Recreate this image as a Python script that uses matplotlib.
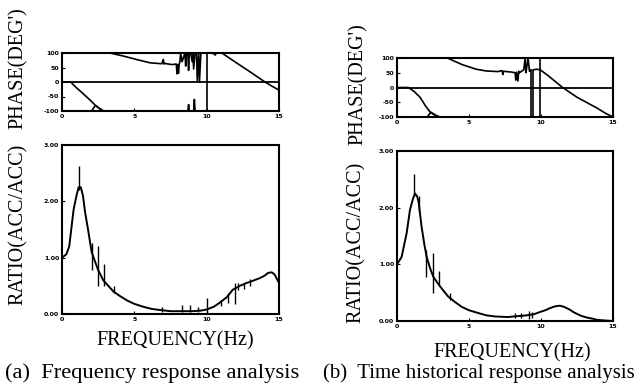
import matplotlib
matplotlib.use("Agg")
import matplotlib.pyplot as plt

# ---- data ----
# (a) frequency response analysis, phase
phase_a_up_f = [0, 3.3, 4.2, 5.2, 6.1, 6.9, 7.0, 7.05, 7.1, 7.6, 7.9, 7.95, 8.0, 8.05,
                8.1, 8.15, 8.2, 8.3, 8.5, 8.55, 8.6, 8.7, 8.75, 8.8, 8.9, 9.0, 9.05,
                9.1, 9.2, 9.3, 9.35, 9.45, 9.5, 9.6, 9.8, 10.0]
phase_a_up_p = [100, 100, 90, 77, 66, 63, 78, 62, 64, 60, 62, 28, 60, 30,
                62, 70, 100, 70, 100, 55, 100, 100, 40, 100, 100, 70, 100,
                45, 100, 100, 5, 100, 0, 100, 100, 100]
phase_a_up2_f = [10.05, 10.4, 10.6, 10.65, 10.8, 11.05, 12.0, 13.0, 14.0, 14.5, 15.0]
phase_a_up2_p = [100, 100, 93, 100, 100, 100, 68, 35, 1, -14, -28]
phase_a_low_f = [0, 0.6, 1.0, 1.5, 2.0, 2.3, 2.6, 2.9]
phase_a_low_p = [0, 0, -20, -42, -65, -80, -92, -100]
phase_a_tri_f = [2.05, 2.3, 2.85]
phase_a_tri_p = [-100, -81, -100]
phase_a_spk_f = [8.7, 8.75, 8.8, 9.1, 9.15, 9.2]
phase_a_spk_p = [-100, -78, -100, -100, -60, -100]
phase_a_jump_f = [10.02]
phase_a_jump_top = [100]

# (a) ratio
ratio_a_f = [0, 0.3, 0.5, 0.8, 1.0, 1.15, 1.3, 1.45, 1.6, 1.8, 2.05, 2.3, 2.5, 2.85,
             3.2, 3.55, 4.0, 4.5, 5.0, 5.6, 6.2, 6.8, 7.5, 8.2, 9.0, 9.6, 10.0, 10.5,
             10.9, 11.4, 11.8, 12.3, 12.75, 13.2, 13.7, 14.0, 14.25, 14.5, 14.7, 15.0]
ratio_a_r = [1.0, 1.06, 1.2, 1.85, 2.1, 2.25, 2.25, 2.1, 1.8, 1.5, 1.1, 0.92, 0.78, 0.6,
             0.5, 0.4, 0.32, 0.24, 0.18, 0.13, 0.09, 0.07, 0.05, 0.05, 0.05, 0.06, 0.08, 0.13,
             0.2, 0.3, 0.43, 0.5, 0.55, 0.59, 0.64, 0.68, 0.73, 0.74, 0.7, 0.55]
ratio_a_spk_f = [1.18, 2.05, 2.5, 2.9, 3.6, 6.9, 8.3, 8.85, 9.4, 10.0, 11.0, 11.5,
                 11.95, 12.2, 12.6, 13.0]
ratio_a_spk_lo = [2.2, 0.78, 0.5, 0.5, 0.38, 0.04, 0.04, 0.03, 0.03, 0.02, 0.14, 0.2,
                  0.17, 0.42, 0.45, 0.5]
ratio_a_spk_hi = [2.62, 1.26, 1.2, 0.88, 0.5, 0.12, 0.16, 0.16, 0.12, 0.28, 0.25, 0.37,
                  0.55, 0.55, 0.55, 0.62]

# (b) time historical response analysis, phase
phase_b_up_f = [0, 3.5, 4.5, 5.5, 6.2, 7.0, 7.3, 7.35, 7.4, 8.0, 8.2, 8.25, 8.3, 8.4,
                8.45, 8.5, 8.8, 8.9, 8.95, 9.0, 9.1, 9.2, 9.3]
phase_b_up_p = [100, 100, 78, 62, 56, 54, 57, 44, 55, 52, 50, 25, 52, 22,
                55, 50, 60, 100, 50, 65, 100, 55, 60]
phase_b_up2_f = [9.47, 9.7, 9.94, 10.0, 10.5, 11.5, 12.5, 13.9, 14.5, 14.8, 15.0]
phase_b_up2_p = [60, 62, 60, 58, 40, 0, -33, -70, -88, -95, -100]
phase_b_low_f = [0, 0.8, 1.2, 1.6, 2.0, 2.3, 2.6, 3.0]
phase_b_low_p = [0, 0, -14, -33, -64, -83, -93, -100]
phase_b_tri_f = [2.1, 2.35, 2.9]
phase_b_tri_p = [-100, -84, -100]
phase_b_jump_f = [9.29, 9.47, 9.94]
phase_b_jump_top = [60, 60, 100]

# (b) ratio
ratio_b_f = [0, 0.32, 0.67, 0.9, 1.1, 1.25, 1.4, 1.5, 1.71, 1.9, 2.06, 2.3, 2.52, 2.99,
             3.56, 4.0, 4.49, 5.0, 5.65, 6.2, 6.8, 7.7, 8.1, 8.6, 9.0, 9.5, 9.95, 10.3,
             10.65, 11.0, 11.3, 11.6, 12.0, 12.3, 12.8, 13.2, 13.6, 13.9, 14.4, 15.0]
ratio_b_r = [1.0, 1.13, 1.55, 1.96, 2.15, 2.25, 2.2, 2.1, 1.66, 1.35, 1.13, 0.93, 0.78, 0.61,
             0.43, 0.34, 0.25, 0.19, 0.14, 0.1, 0.08, 0.07, 0.08, 0.09, 0.1, 0.12, 0.16, 0.19,
             0.23, 0.26, 0.27, 0.25, 0.2, 0.15, 0.09, 0.06, 0.04, 0.02, 0.01, 0.0]
ratio_b_spk_f = [1.18, 1.5, 2.0, 2.52, 2.95, 3.65, 8.2, 8.6, 9.15, 9.4]
ratio_b_spk_lo = [2.2, 1.95, 0.78, 0.5, 0.62, 0.37, 0.05, 0.05, 0.04, 0.05]
ratio_b_spk_hi = [2.6, 2.2, 1.25, 1.2, 0.88, 0.5, 0.14, 0.15, 0.17, 0.16]

freq_ticks = [0, 5, 10, 15]
phase_ticks = [-100, -50, 0, 50, 100]
ratio_ticks = [0, 1, 2, 3]
ratio_ticklabels = ['0.00', '1.00', '2.00', '3.00']
captions = ['(a)  Frequency response analysis', '(b)  Time historical response analysis']

W, H = 639, 392
serif = 'Liberation Serif'


def box(l, t, r, b):
    return [l / W, 1 - b / H, (r - l) / W, (b - t) / H]


def style(ax):
    for s in ax.spines.values():
        s.set_linewidth(1.5)
    ax.set_xlim(0, 15)
    ax.set_xticks(freq_ticks)
    ax.set_xticklabels([str(t) for t in freq_ticks])
    ax.tick_params(direction='in', length=2, width=0.8, labelsize=4.5, pad=2)
    for lab in ax.get_xticklabels() + ax.get_yticklabels():
        lab.set_fontweight('bold')


def phase_panel(ax, up, up2, low, tri, spk, jumps):
    ax.axhline(0, color='black', lw=1.3)
    for f, p in [up, up2, low, tri, spk]:
        if f:
            ax.plot(f, p, color='black', lw=1.2)
    ax.vlines(jumps[0], -100, jumps[1], color='black', lw=1.2)
    ax.set_ylim(-100, 100)
    ax.set_yticks(phase_ticks)
    ax.set_yticklabels([str(t) for t in phase_ticks])
    style(ax)


def ratio_panel(ax, f, r, sf, lo, hi):
    ax.plot(f, r, color='black', lw=1.4)
    ax.vlines(sf, lo, hi, color='black', lw=1.0)
    ax.set_ylim(0, 3)
    ax.set_yticks(ratio_ticks)
    ax.set_yticklabels(ratio_ticklabels)
    style(ax)


fig = plt.figure(figsize=(W / 100, H / 100), dpi=100)

ax1 = fig.add_axes(box(62, 53, 279, 111))
phase_panel(ax1, (phase_a_up_f, phase_a_up_p), (phase_a_up2_f, phase_a_up2_p),
            (phase_a_low_f, phase_a_low_p), (phase_a_tri_f, phase_a_tri_p),
            (phase_a_spk_f, phase_a_spk_p), (phase_a_jump_f, phase_a_jump_top))
ax2 = fig.add_axes(box(62, 145, 279, 314))
ratio_panel(ax2, ratio_a_f, ratio_a_r, ratio_a_spk_f, ratio_a_spk_lo, ratio_a_spk_hi)

ax3 = fig.add_axes(box(397, 58, 613, 117))
phase_panel(ax3, (phase_b_up_f, phase_b_up_p), (phase_b_up2_f, phase_b_up2_p),
            (phase_b_low_f, phase_b_low_p), (phase_b_tri_f, phase_b_tri_p),
            ([], []), (phase_b_jump_f, phase_b_jump_top))
ax4 = fig.add_axes(box(397, 151, 613, 321))
ratio_panel(ax4, ratio_b_f, ratio_b_r, ratio_b_spk_f, ratio_b_spk_lo, ratio_b_spk_hi)

# axis labels, placed in pixel positions of the scan
def txt(x, y, s, **kw):
    fig.text(x / W, 1 - y / H, s, family=serif, ha='center', va='center', **kw)

txt(18, 68, "PHASE(DEG')", rotation=90, fontsize=14.5)
txt(18, 224, 'RATIO(ACC/ACC)', rotation=90, fontsize=14.5)
txt(358, 84, "PHASE(DEG')", rotation=90, fontsize=14.5)
txt(356, 242, 'RATIO(ACC/ACC)', rotation=90, fontsize=14.5)
txt(175, 341, 'FREQUENCY(Hz)', fontsize=14.5)
txt(512, 353, 'FREQUENCY(Hz)', fontsize=14.5)
fig.text(5 / W, 1 - 373 / H, captions[0], family=serif, fontsize=16.2,
         ha='left', va='center')
fig.text(323 / W, 1 - 373 / H, captions[1], family=serif, fontsize=15,
         ha='left', va='center')

fig.savefig('out.png', dpi=100, facecolor='white')
